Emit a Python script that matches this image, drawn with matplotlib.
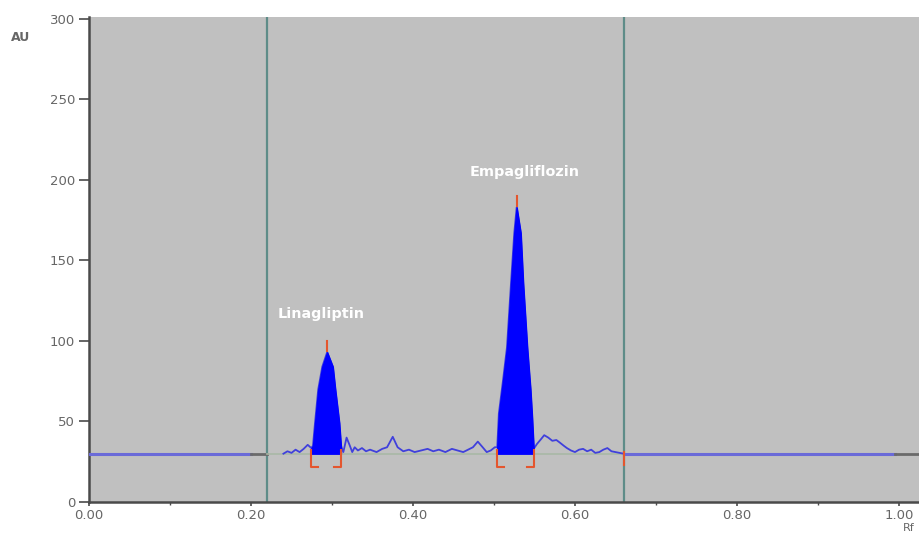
import matplotlib
matplotlib.use("Agg")
import matplotlib.pyplot as plt
from matplotlib.ticker import MultipleLocator

plt.rcParams['font.family'] = ['DejaVu Sans']

# ---- data ----
baseline_au = 30
window_rf = [0.22, 0.66]

trace_rf = [0.240, 0.245, 0.250, 0.255, 0.260, 0.265, 0.270, 0.2745,
            0.2765, 0.279, 0.283, 0.288, 0.294, 0.301, 0.304, 0.309, 0.311,
            0.314, 0.318, 0.322, 0.325, 0.328, 0.332, 0.337, 0.342, 0.347,
            0.355, 0.362, 0.368, 0.375, 0.381, 0.388, 0.395, 0.402, 0.410,
            0.418, 0.425, 0.432, 0.440, 0.448, 0.455, 0.462, 0.468, 0.474,
            0.480, 0.486, 0.491, 0.496, 0.501, 0.504,
            0.506, 0.511, 0.516, 0.521, 0.525, 0.528, 0.533, 0.536, 0.541,
            0.545, 0.547, 0.549, 0.553, 0.558, 0.562, 0.567, 0.572, 0.577,
            0.581, 0.586, 0.590, 0.595, 0.600, 0.605, 0.610, 0.615, 0.620,
            0.625, 0.630, 0.635, 0.640, 0.645, 0.650, 0.655, 0.660]
trace_au = [30.0, 31.5, 30.5, 32.5, 31.0, 33.0, 35.5, 33.5,
            35.0, 49.0, 70.0, 84.0, 93.0, 84.0, 70.0, 49.0, 35.0,
            31.0, 40.0, 35.0, 31.0, 34.0, 32.0, 33.5, 31.5, 32.5,
            31.0, 33.0, 34.0, 40.5, 34.0, 31.5, 32.5, 31.0, 32.0,
            33.0, 31.5, 32.5, 31.0, 33.0, 32.0, 31.0, 32.5, 34.0,
            37.5, 34.0, 31.0, 32.0, 34.0, 34.0,
            55.0, 75.0, 96.0, 136.0, 167.0, 183.0, 167.0, 136.0, 96.0,
            70.0, 53.0, 33.0, 36.0, 39.0, 41.5, 40.0, 38.0, 38.5,
            37.0, 35.0, 33.5, 32.0, 31.0, 32.5, 33.0, 31.5, 32.5,
            30.5, 31.0, 32.5, 33.5, 31.5, 31.0, 30.5, 30.0]

peak_names = ["Linagliptin", "Empagliflozin"]
peak_start = [0.2745, 0.504]
peak_end = [0.311, 0.549]
peak_apex_rf = [0.294, 0.528]
peak_apex_au = [93, 183]
label_rf = [0.287, 0.538]
label_au = [117, 205]

x_ticks = [0.0, 0.2, 0.4, 0.6, 0.8, 1.0]
x_tick_labels = ["0.00", "0.20", "0.40", "0.60", "0.80", "1.00"]
y_ticks = [0, 50, 100, 150, 200, 250, 300]

# ---- figure ----
fig = plt.figure(figsize=(9.19, 5.34), dpi=100)
ax = fig.add_axes([89 / 919, 32 / 534, 830 / 919, 485 / 534])
ax.set_facecolor("#c0c0c0")
ax.set_xlim(0, 1.0247)
ax.set_ylim(0, 301.2)

# window lines
for w in window_rf:
    ax.axvline(w, color="#5e8c88", lw=1.6, zorder=2)

# baseline segments
ax.plot([0, 0.20], [baseline_au, baseline_au], color="#6a6ad8", lw=2.2, zorder=3)
ax.plot([0.20, window_rf[0]], [baseline_au, baseline_au], color="#6a6a6a", lw=2.0, zorder=3)
ax.plot([window_rf[0], window_rf[1]], [baseline_au, baseline_au], color="#a9b8a6", lw=1.2, zorder=3)
ax.plot([window_rf[1], 0.995], [baseline_au, baseline_au], color="#6a6ad8", lw=2.2, zorder=3)
ax.plot([0.995, 1.0247], [baseline_au, baseline_au], color="#6a6a6a", lw=2.0, zorder=3)

# trace
ax.plot(trace_rf, trace_au, color="#4040dc", lw=1.3, zorder=4)

# filled peaks
for s, e in zip(peak_start, peak_end):
    xs = [x for x in trace_rf if s <= x <= e]
    ys = [y for x, y in zip(trace_rf, trace_au) if s <= x <= e]
    ax.fill_between(xs, baseline_au, ys, color="#0000ff", lw=1.0, edgecolor="#0000ff", zorder=5)

red = "#e4562e"
# apex markers
for xr, ya in zip(peak_apex_rf, peak_apex_au):
    ax.plot([xr, xr], [ya + 1, ya + 7], color=red, lw=1.5, zorder=6)
# brackets
for s, e in zip(peak_start, peak_end):
    ax.plot([s + 0.008, s, s], [baseline_au - 8.5, baseline_au - 8.5, baseline_au + 2], color=red, lw=1.5, zorder=6)
    ax.plot([e - 0.008, e, e], [baseline_au - 8.5, baseline_au - 8.5, baseline_au + 2], color=red, lw=1.5, zorder=6)
# end-of-window marker
ax.plot([window_rf[1], window_rf[1]], [baseline_au - 7, baseline_au + 1], color=red, lw=1.5, zorder=6)

# labels
for name, xr, ya in zip(peak_names, label_rf, label_au):
    ax.text(xr, ya, name, color="white", fontsize=10.4, fontweight="bold", ha="center", va="center", zorder=7)

# axes styling
for sp in ["top", "right"]:
    ax.spines[sp].set_visible(False)
for sp in ["left", "bottom"]:
    ax.spines[sp].set_color("#4a4a4a")
    ax.spines[sp].set_linewidth(1.8)

ax.set_xticks(x_ticks)
ax.set_xticklabels(x_tick_labels)
ax.xaxis.set_minor_locator(MultipleLocator(0.1))
ax.set_yticks(y_ticks)
ax.tick_params(axis="both", which="major", labelsize=9.5, colors="#4a4a4a", labelcolor="#666666")
ax.tick_params(axis="y", length=7, width=1.2, pad=3)
ax.tick_params(axis="x", length=3, width=1.2, pad=2)
ax.tick_params(axis="x", which="minor", length=2, width=1.0, colors="#4a4a4a")

fig.text(21 / 919, 1 - 37 / 534, "AU", fontsize=9, fontweight="bold", color="#666666", ha="center", va="center")
fig.text(909 / 919, 1 / 534, "Rf", fontsize=8, color="#666666", ha="center", va="bottom")

fig.savefig("out.png", dpi=100)
